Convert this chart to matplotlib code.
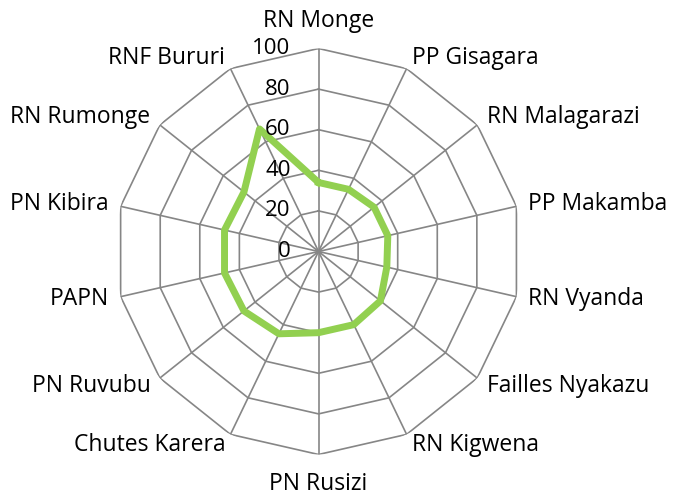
import numpy as np
import matplotlib
matplotlib.use("Agg")
import matplotlib.pyplot as plt

plt.rcParams['font.family'] = ['Open Sans', 'DejaVu Sans']

categories = ['RN Monge', 'PP Gisagara', 'RN Malagarazi', 'PP Makamba', 'RN Vyanda',
              'Failles Nyakazu', 'RN Kigwena', 'PN Rusizi', 'Chutes Karera',
              'PN Ruvubu', 'PAPN', 'PN Kibira', 'RN Rumonge', 'RNF Bururi']
values = [34, 34, 35, 35, 34.5, 39, 40, 40, 45, 47, 47.5, 47.5, 47, 67]
rings = [20, 40, 60, 80, 100]
tick_labels = ['0', '20', '40', '60', '80', '100']

grid_col = '#868686'
line_col = '#92D050'

n = len(categories)
theta = np.arange(n) * 2 * np.pi / n
theta_c = np.append(theta, theta[0])

fig = plt.figure(figsize=(6.74, 4.99), dpi=100)
ax = fig.add_axes([0.1714, 0.0892, 0.6024, 0.8136], projection='polar')
ax.set_theta_offset(np.pi / 2)
ax.set_theta_direction(-1)
ax.set_ylim(0, 100)
ax.grid(False)
ax.spines['polar'].set_visible(False)
ax.set_xticks([])
ax.set_yticks([])
ax.patch.set_alpha(0)

# polygon grid
for r in rings:
    ax.plot(theta_c, [r] * (n + 1), color=grid_col, lw=1.2, zorder=1)
for t in theta:
    ax.plot([t, t], [0, 100], color=grid_col, lw=1.2, zorder=1)

# data
vals_c = values + [values[0]]
ax.plot(theta_c, vals_c, color=line_col, lw=5, solid_joinstyle='round', zorder=3, clip_on=False)

# value axis labels
for r, lab in zip([0] + rings, tick_labels):
    ax.annotate(lab, xy=(0, r), xytext=(-28, 0), textcoords='offset pixels',
                ha='right', va='center', fontsize=16, color='black', zorder=4,
                annotation_clip=False)

# category labels
for t, lab in zip(theta, categories):
    s, c = np.sin(t), np.cos(t)
    if abs(s) < 1e-6:
        ha = 'center'
        off = (0, 28 if c > 0 else -30)
    else:
        ha = 'left' if s > 0 else 'right'
        off = (12 * s, 12 * c)
    ax.annotate(lab, xy=(t, 100), xytext=off, textcoords='offset pixels',
                ha=ha, va='center', fontsize=16.5, color='black',
                annotation_clip=False)

fig.savefig('out.png', dpi=100)
